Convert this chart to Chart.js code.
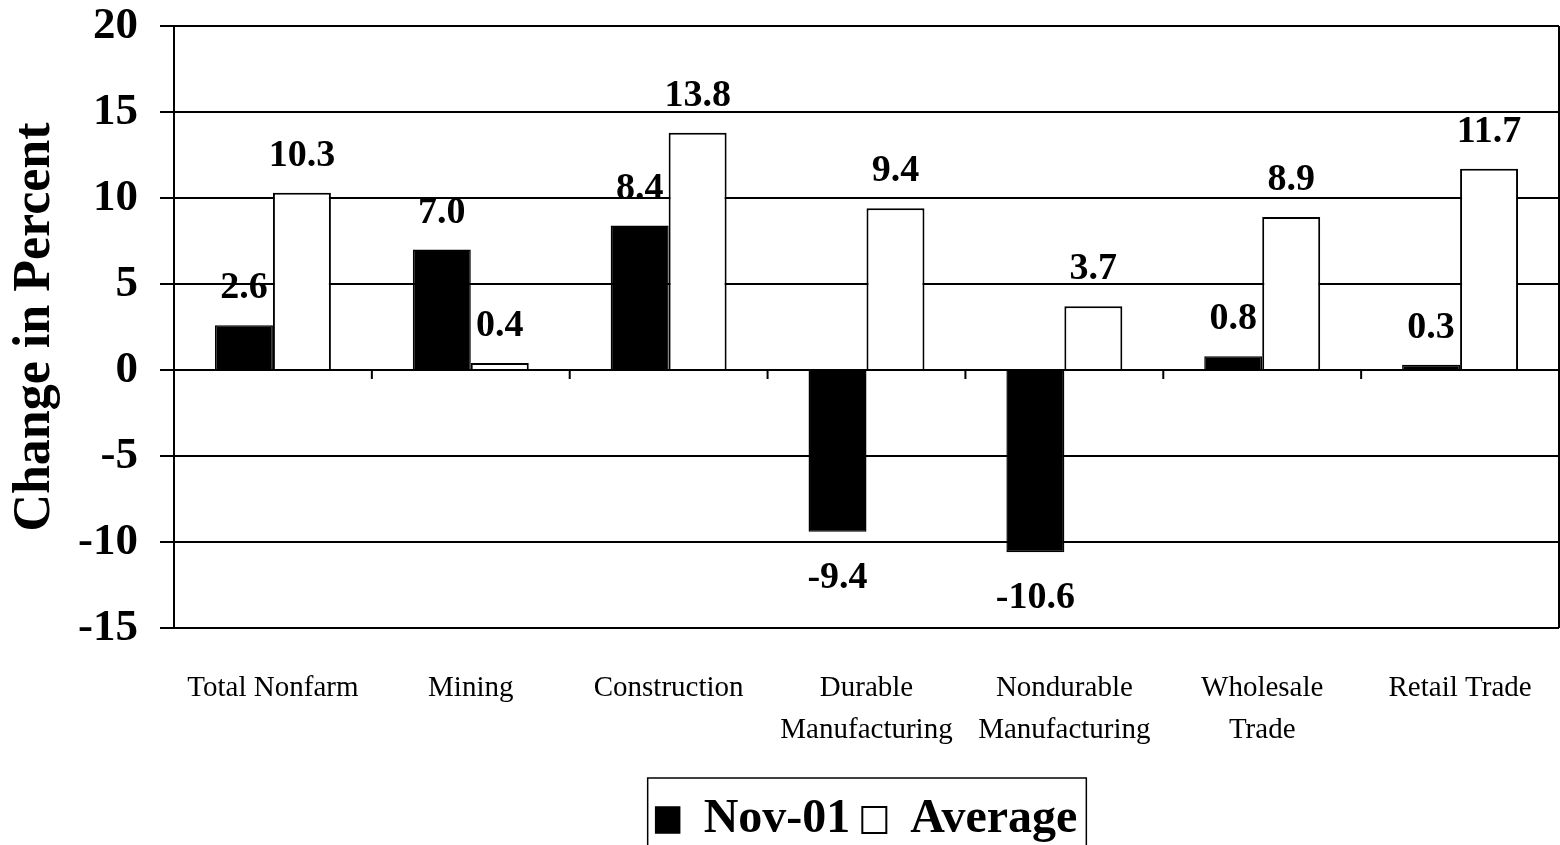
<!DOCTYPE html>
<html>
<head>
<meta charset="utf-8">
<script src="https://cdn.jsdelivr.net/npm/chart.js@4.4.0/dist/chart.umd.min.js"></script>
<style>
  body { margin: 0; background: #fff; }
  #wrap { width: 1560px; height: 845px; }
</style>
</head>
<body>
<div id="wrap"><canvas id="grafico"></canvas></div>
<script>
const categorias = [
  "Total Nonfarm",
  "Mining",
  "Construction",
  ["Durable", "Manufacturing"],
  ["Nondurable", "Manufacturing"],
  ["Wholesale", "Trade"],
  "Retail Trade"
];
const valoresNov01 = [2.6, 7.0, 8.4, -9.4, -10.6, 0.8, 0.3];
const valoresAverage = [10.3, 0.4, 13.8, 9.4, 3.7, 8.9, 11.7];
const yMin = -15;
const yMax = 20;
const yStep = 5;

const serif = "'Liberation Serif', 'Times New Roman', serif";

// numbers above / below the bars
const valueLabels = {
  id: "valueLabels",
  afterDatasetsDraw(chart) {
    const ctx = chart.ctx;
    ctx.save();
    ctx.font = "bold 38px " + serif;
    ctx.fillStyle = "#000";
    ctx.textAlign = "center";
    ctx.textBaseline = "alphabetic";
    chart.data.datasets.forEach((ds, i) => {
      chart.getDatasetMeta(i).data.forEach((bar, j) => {
        const v = ds.data[j];
        const ty = v >= 0 ? bar.y - 27 : bar.y + 56;
        ctx.fillText(v.toFixed(1), bar.x, ty);
      });
    });
    ctx.restore();
  }
};

// tick marks on the zero line, right frame, legend box
const extras = {
  id: "extras",
  afterDraw(chart) {
    const ctx = chart.ctx;
    const xs = chart.scales.x;
    const ys = chart.scales.y;
    const area = chart.chartArea;
    const y0 = ys.getPixelForValue(0);
    ctx.save();
    ctx.strokeStyle = "#000";
    ctx.lineWidth = 2;
    ctx.beginPath();
    for (let i = 1; i < categorias.length; i++) {
      const xb = (xs.getPixelForValue(i - 1) + xs.getPixelForValue(i)) / 2;
      ctx.moveTo(xb, y0);
      ctx.lineTo(xb, y0 + 9);
    }
    ctx.moveTo(area.right, area.top);
    ctx.lineTo(area.right, area.bottom);
    ctx.stroke();

    const boxes = chart.legend.legendHitBoxes;
    if (boxes && boxes.length) {
      const left = Math.min(...boxes.map(b => b.left)) - 8;
      const right = Math.max(...boxes.map(b => b.left + b.width)) + 9;
      const top = Math.min(...boxes.map(b => b.top)) - 18;
      ctx.lineWidth = 1.5;
      ctx.strokeRect(left, top, right - left, 200);
    }
    ctx.restore();
  }
};

Chart.defaults.color = "#000";
Chart.defaults.font.family = serif;

const ctx = document.getElementById("grafico").getContext("2d");
new Chart(ctx, {
  type: "bar",
  data: {
    labels: categorias,
    datasets: [
      {
        label: "Nov-01",
        data: valoresNov01,
        backgroundColor: "#000",
        borderColor: "#000",
        borderWidth: 1.5,
        categoryPercentage: 0.586,
        barPercentage: 1.0
      },
      {
        label: "Average",
        data: valoresAverage,
        backgroundColor: "#fff",
        borderColor: "#000",
        borderWidth: 2,
        categoryPercentage: 0.586,
        barPercentage: 1.0
      }
    ]
  },
  options: {
    responsive: true,
    maintainAspectRatio: false,
    animation: false,
    layout: { padding: { top: 0, right: 1, bottom: -9, left: 0 } },
    plugins: {
      tooltip: { enabled: false },
      legend: {
        position: "bottom",
        fullSize: false,
        labels: {
          boxWidth: 24,
          boxHeight: 26,
          padding: 12,
          color: "#000",
          font: { size: 48, weight: "bold", family: serif }
        }
      }
    },
    scales: {
      x: {
        grid: { display: false, drawTicks: false, tickLength: 0 },
        border: { display: false },
        ticks: {
          padding: 39,
          maxRotation: 0,
          autoSkip: false,
          color: "#000",
          font: { size: 29, family: serif, lineHeight: 1.45 }
        },
        afterFit(scale) {
          scale.height = 156;
          scale.paddingLeft = 0;
          scale.paddingRight = 0;
        }
      },
      y: {
        min: yMin,
        max: yMax,
        ticks: {
          stepSize: yStep,
          padding: 22,
          color: "#000",
          font: { size: 45, weight: "bold", family: serif }
        },
        grid: { color: "#000", lineWidth: 2, tickLength: 14 },
        border: { color: "#000", width: 2 },
        title: {
          display: true,
          text: "Change in Percent",
          color: "#000",
          padding: { top: 4, bottom: 0 },
          font: { size: 52, weight: "bold", family: serif }
        },
        afterFit(scale) {
          scale.width = 174;
          scale.paddingTop = 26;
          scale.paddingBottom = 0;
        }
      }
    }
  },
  plugins: [valueLabels, extras]
});
</script>
</body>
</html>
